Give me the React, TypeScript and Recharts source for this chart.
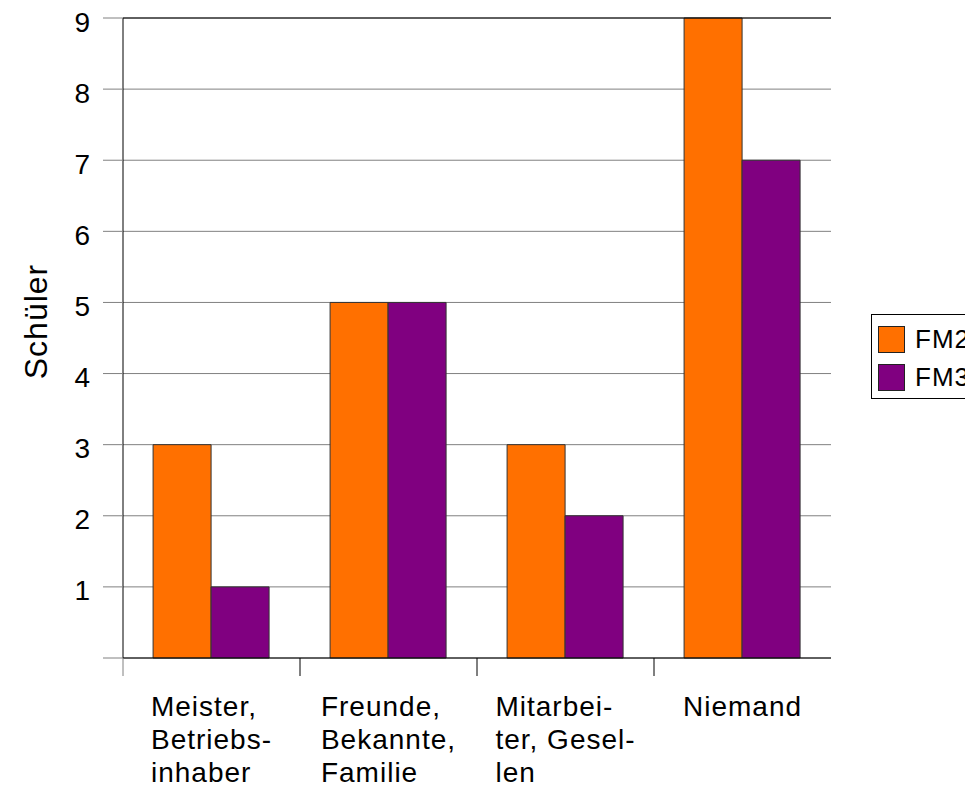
import React from "react";
import {
  BarChart,
  Bar,
  XAxis,
  YAxis,
  CartesianGrid,
  Legend,
  ReferenceLine,
} from "recharts";

const categories = [
  "Meister,\nBetriebs-\ninhaber",
  "Freunde,\nBekannte,\nFamilie",
  "Mitarbei-\nter, Gesel-\nlen",
  "Niemand",
];
const fm2Values = [3, 5, 3, 9];
const fm3Values = [1, 5, 2, 7];
const seriesNames = ["FM2", "FM3"];
const seriesColors = ["#FF7000", "#800080"];
const yTicks = [0, 1, 2, 3, 4, 5, 6, 7, 8, 9];

const data = categories.map((c, i) => ({
  name: c,
  FM2: fm2Values[i],
  FM3: fm3Values[i],
}));

const FONT = "'Liberation Sans', Arial, sans-serif";
const LS = 1;

function measure(text: string, size: number): number {
  try {
    const canvas = document.createElement("canvas");
    const ctx = canvas.getContext("2d");
    if (ctx) {
      ctx.font = `${size}px 'Liberation Sans'`;
      return ctx.measureText(text).width + LS * text.length;
    }
  } catch (e) {}
  return text.length * size * 0.55;
}

const XTick = (props: any) => {
  const { x, y, payload, index } = props;
  const lines: string[] = String(payload.value).split("\n");
  const maxW = Math.max(...lines.map((l) => measure(l, 28)));
  const left = x - maxW / 2;
  const half = payload && typeof payload.offset === "number" ? payload.offset : 0;
  const bx = x - half;
  return (
    <g>
      <line
        x1={bx}
        x2={bx}
        y1={y}
        y2={y + 18}
        stroke={index === 0 ? "#808080" : "#000"}
        strokeWidth={1}
      />
      {lines.map((l, i) => (
        <text
          key={i}
          x={left}
          y={y + 58 + i * 33}
          textAnchor="start"
          fontFamily={FONT}
          fontSize={28}
          letterSpacing={LS}
          fill="#000"
        >
          {l}
        </text>
      ))}
    </g>
  );
};

const YTick = (props: any) => {
  const { x, y, payload } = props;
  if (payload.value === 0) return null;
  return (
    <text
      x={x}
      y={y + 13.5}
      textAnchor="end"
      fontFamily={FONT}
      fontSize={28}
      fill="#000"
    >
      {payload.value}
    </text>
  );
};

const YLabel = (props: any) => {
  const { viewBox } = props;
  const cx = viewBox.x + 47;
  const cy = viewBox.y + viewBox.height / 2 - 16.5;
  return (
    <text
      x={cx}
      y={cy}
      textAnchor="middle"
      transform={`rotate(-90, ${cx}, ${cy})`}
      fontFamily={FONT}
      fontSize={32}
      letterSpacing={1}
      fill="#000"
    >
      Schüler
    </text>
  );
};

const LegendBox = () => (
  <div
    style={{
      border: "1px solid #000",
      padding: "11px 0 8px 6px",
      width: 140,
      background: "#fff",
      fontFamily: FONT,
    }}
  >
    {seriesNames.map((n, i) => (
      <div
        key={n}
        style={{
          display: "flex",
          alignItems: "center",
          height: 26,
          marginBottom: i === 0 ? 12 : 0,
        }}
      >
        <div
          style={{
            width: 25,
            height: 25,
            background: seriesColors[i],
            border: "1px solid #222",
            marginRight: 10,
          }}
        />
        <span style={{ fontSize: 26, letterSpacing: 1, color: "#000" }}>{n}</span>
      </div>
    ))}
  </div>
);

export default function App() {
  return (
    <div
      style={{
        position: "absolute",
        left: 0,
        top: 0,
        width: 965,
        height: 785,
        overflow: "hidden",
        background: "#fff",
      }}
    >
      <BarChart
        width={965}
        height={785}
        data={data}
        margin={{ top: 18, right: 134, left: 0, bottom: 0 }}
        barCategoryGap="17%"
        barGap={0}
      >
        <CartesianGrid horizontal vertical={false} stroke="#808080" />
        <XAxis
          dataKey="name"
          type="category"
          tickLine={false}
          tickSize={0}
          tickMargin={0}
          axisLine={{ stroke: "#000" }}
          tick={<XTick />}
          interval={0}
          height={127}
        />
        <YAxis
          type="number"
          domain={[0, 9]}
          ticks={yTicks}
          interval={0}
          width={123}
          tickSize={20}
          tickMargin={13}
          tickLine={{ stroke: "#808080" }}
          axisLine={{ stroke: "#000" }}
          tick={<YTick />}
          label={<YLabel />}
        />
        <ReferenceLine y={9} stroke="#000" ifOverflow="extendDomain" />
        <Legend
          layout="horizontal"
          verticalAlign="middle"
          align="center"
          content={<LegendBox />}
          wrapperStyle={{ left: 871, top: 314, width: 140 }}
        />
        <Bar
          dataKey="FM2"
          name={seriesNames[0]}
          fill={seriesColors[0]}
          stroke="#333"
          strokeWidth={1}
          isAnimationActive={false}
        />
        <Bar
          dataKey="FM3"
          name={seriesNames[1]}
          fill={seriesColors[1]}
          stroke="#333"
          strokeWidth={1}
          isAnimationActive={false}
        />
      </BarChart>
    </div>
  );
}
